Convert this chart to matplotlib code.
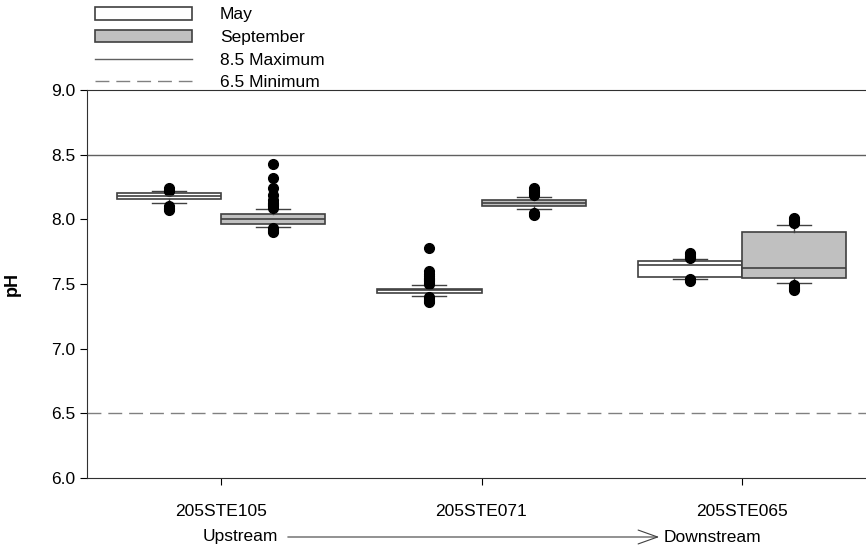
import matplotlib
matplotlib.use("Agg")
import matplotlib.pyplot as plt
from matplotlib.patches import Patch, FancyArrowPatch
from matplotlib.lines import Line2D

plt.rcParams['font.family'] = ['Liberation Sans', 'DejaVu Sans']

# =========================
# Data
# =========================
sites = ["205STE105", "205STE071", "205STE065"]

# May
may_q1 = [8.16, 7.43, 7.555]
may_med = [8.18, 7.45, 7.65]
may_q3 = [8.20, 7.465, 7.675]
may_lo = [8.13, 7.41, 7.54]
may_hi = [8.22, 7.49, 7.69]
may_fliers = [
    [8.24, 8.23, 8.22, 8.10, 8.09, 8.08, 8.07],
    [7.78, 7.60, 7.58, 7.56, 7.55, 7.54, 7.53, 7.52, 7.51, 7.50,
     7.40, 7.39, 7.38, 7.37, 7.36],
    [7.74, 7.73, 7.72, 7.71, 7.70, 7.54, 7.53, 7.52],
]

# September
sep_q1 = [7.965, 8.10, 7.547]
sep_med = [8.00, 8.13, 7.627]
sep_q3 = [8.04, 8.15, 7.90]
sep_lo = [7.94, 8.08, 7.51]
sep_hi = [8.08, 8.17, 7.96]
sep_fliers = [
    [8.43, 8.32, 8.24, 8.19, 8.15, 8.13, 8.12, 8.11, 8.10, 8.09,
     7.93, 7.92, 7.91, 7.90],
    [8.24, 8.23, 8.22, 8.21, 8.20, 8.19, 8.05, 8.04, 8.03],
    [8.01, 8.00, 7.99, 7.98, 7.97, 7.49, 7.48, 7.47, 7.46, 7.45],
]

y_ticks = [6.0, 6.5, 7.0, 7.5, 8.0, 8.5, 9.0]
max_limit = 8.5
min_limit = 6.5


def make_stats(q1, med, q3, lo, hi, fliers):
    return [
        {"q1": a, "med": b, "q3": c, "whislo": d, "whishi": e, "fliers": f}
        for a, b, c, d, e, f in zip(q1, med, q3, lo, hi, fliers)
    ]


fig = plt.figure(figsize=(8.66, 5.53), dpi=100)
ax = fig.add_axes([87 / 866, 75 / 553, 789 / 866, 388 / 553])

pos = list(range(len(sites)))
box_w = 0.4
edge = "#404040"
flier_style = dict(marker="o", markerfacecolor="black", markeredgecolor="black",
                   markersize=7, linestyle="none")

for stats, offset, color in [
    (make_stats(may_q1, may_med, may_q3, may_lo, may_hi, may_fliers), -0.2, "white"),
    (make_stats(sep_q1, sep_med, sep_q3, sep_lo, sep_hi, sep_fliers), 0.2, "#c0c0c0"),
]:
    ax.bxp(
        stats,
        positions=[p + offset for p in pos],
        widths=box_w,
        patch_artist=True,
        boxprops=dict(facecolor=color, edgecolor=edge, linewidth=1.2),
        medianprops=dict(color=edge, linewidth=1.2),
        whiskerprops=dict(color=edge, linewidth=1.0),
        capprops=dict(color=edge, linewidth=1.0),
        capwidths=0.13,
        flierprops=flier_style,
        manage_ticks=False,
        zorder=3,
    )

ax.axhline(max_limit, color="#606060", linewidth=1.0, zorder=1)
ax.axhline(min_limit, color="#808080", linewidth=1.0, dashes=(10, 5), zorder=1)

ax.set_xlim(-0.515, 2.515)
ax.set_ylim(6.0, 9.0)
ax.set_yticks(y_ticks)
ax.set_yticklabels([f"{v:.1f}" for v in y_ticks], fontsize=12.5)
ax.set_xticks(pos)
ax.set_xticklabels(sites, fontsize=12.5)
ax.tick_params(axis="x", length=5, pad=14)
ax.tick_params(axis="y", length=5)
ax.set_ylabel("pH", fontsize=13, fontweight="bold", labelpad=22)
ax.spines["right"].set_visible(False)
for s in ["left", "bottom", "top"]:
    ax.spines[s].set_color("#303030")

# Upstream -> Downstream annotation
fig.text(240 / 866, 1 - 537 / 553, "Upstream", fontsize=12.5, ha="center", va="center")
fig.text(712 / 866, 1 - 537 / 553, "Downstream", fontsize=12.5, ha="center", va="center")
fig.add_artist(FancyArrowPatch(
    (285 / 866, 1 - 537 / 553), (662 / 866, 1 - 537 / 553),
    transform=fig.transFigure, arrowstyle="->,head_length=14,head_width=5",
    color="#404040", linewidth=0.8))

handles = [
    Patch(facecolor="white", edgecolor=edge, linewidth=1.2),
    Patch(facecolor="#c0c0c0", edgecolor=edge, linewidth=1.2),
    Line2D([0], [0], color="#606060", linewidth=1.0),
    Line2D([0], [0], color="#808080", linewidth=1.0, dashes=(10, 5)),
]
labels = ["May", "September", "8.5 Maximum", "6.5 Minimum"]
fig.legend(handles, labels, loc="upper left", bbox_to_anchor=(88 / 866, 1.0),
           frameon=False, fontsize=12.5, handlelength=5.6, handleheight=0.75,
           labelspacing=0.42, handletextpad=1.6, borderaxespad=0.0)

fig.savefig("out.png", dpi=100)
